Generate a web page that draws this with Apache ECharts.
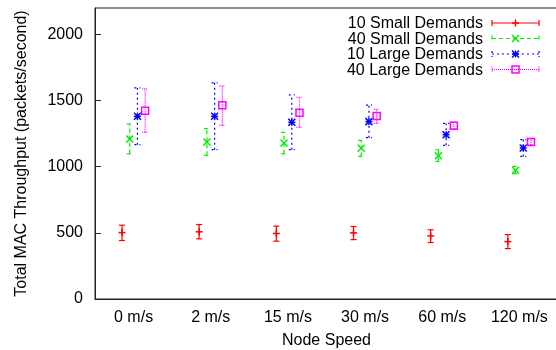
<!DOCTYPE html>
<html>
<head>
<meta charset="utf-8">
<script src="https://cdn.jsdelivr.net/npm/echarts@6/dist/echarts.min.js"></script>
<style>html,body{margin:0;padding:0;background:#fff;}#c{width:556px;height:350px;}</style>
</head>
<body>
<div id="c"></div>
<script>
var categories = ['0 m/s', '2 m/s', '15 m/s', '30 m/s', '60 m/s', '120 m/s'];
var yTicks = [0, 500, 1000, 1500, 2000];

var small10 = [502, 508, 495, 500, 477, 434];
var small10Low = [442, 455, 437, 449, 427, 381];
var small10High = [558, 563, 551, 548, 523, 487];

var small40 = [1210, 1187, 1180, 1139, 1083, 974];
var small40Low = [1098, 1086, 1098, 1078, 1040, 947];
var small40High = [1323, 1288, 1260, 1199, 1128, 1002];

var large10 = [1381, 1381, 1336, 1341, 1242, 1142];
var large10Low = [1167, 1129, 1129, 1220, 1162, 1078];
var large10High = [1596, 1634, 1543, 1465, 1327, 1205];

var large40 = [1424, 1464, 1409, 1384, 1310, 1187];
var large40Low = [1260, 1313, 1298, 1328, 1284, 1164];
var large40High = [1589, 1611, 1525, 1434, 1337, 1212];

var seriesNames = ['10 Small Demands', '40 Small Demands', '10 Large Demands', '40 Large Demands'];

function build(v, lo, hi) {
  return categories.map(function (c, i) { return [i, v[i], lo[i], hi[i]]; });
}

var styles = [
  { color: '#ff0000', dash: null, marker: 'plus', offset: -0.15 },
  { color: '#00ee00', dash: [4, 3], marker: 'cross', offset: -0.05 },
  { color: '#0000ff', dash: [2, 3], marker: 'star', offset: 0.05 },
  { color: '#ff00ff', dash: [1, 1], marker: 'square', offset: 0.15 }
];

function markerShapes(type, cx, cy, color) {
  var r = 3.5, out = [];
  var st = { stroke: color, lineWidth: 1.5, fill: null };
  function ln(x1, y1, x2, y2) { out.push({ type: 'line', shape: { x1: x1, y1: y1, x2: x2, y2: y2 }, style: st }); }
  if (type === 'plus' || type === 'star') { ln(cx - r, cy, cx + r, cy); ln(cx, cy - r, cx, cy + r); }
  if (type === 'cross' || type === 'star') { ln(cx - r, cy - r, cx + r, cy + r); ln(cx - r, cy + r, cx + r, cy - r); }
  if (type === 'square') { out.push({ type: 'rect', shape: { x: cx - r, y: cy - r, width: 2 * r, height: 2 * r }, style: { stroke: color, lineWidth: 1.5, fill: null } }); }
  return out;
}

function makeRender(s) {
  return function (params, api) {
    var i = api.value(0);
    var band = api.size([1, 0])[0];
    var pc = api.coord([i, api.value(1)]);
    var pl = api.coord([i, api.value(2)]);
    var ph = api.coord([i, api.value(3)]);
    var x = pc[0] + s.offset * band;
    var cap = 3;
    var ls = { stroke: s.color, lineWidth: 1.2, lineDash: s.dash };
    var children = [
      { type: 'line', shape: { x1: x, y1: pl[1], x2: x, y2: ph[1] }, style: ls },
      { type: 'line', shape: { x1: x - cap, y1: pl[1], x2: x + cap, y2: pl[1] }, style: ls },
      { type: 'line', shape: { x1: x - cap, y1: ph[1], x2: x + cap, y2: ph[1] }, style: ls }
    ].concat(markerShapes(s.marker, x, pc[1], s.color));
    return { type: 'group', children: children };
  };
}

var datasets = [
  build(small10, small10Low, small10High),
  build(small40, small40Low, small40High),
  build(large10, large10Low, large10High),
  build(large40, large40Low, large40High)
];

var series = datasets.map(function (d, k) {
  return {
    name: seriesNames[k],
    type: 'custom',
    renderItem: makeRender(styles[k]),
    encode: { x: 0, y: [1, 2, 3] },
    data: d,
    clip: true
  };
});

// legend drawn as graphic elements (text right aligned, error-bar sample on the right)
var legendGraphics = [];
var rowY = [23, 38.5, 54, 69.5];
seriesNames.forEach(function (n, k) {
  var s = styles[k], y = rowY[k], x1 = 492, x2 = 539, xm = (x1 + x2) / 2;
  var ls = { stroke: s.color, lineWidth: 1.2, lineDash: s.dash };
  legendGraphics.push({ type: 'text', right: 556 - 483, top: y - 7, style: { text: n, font: '16px "Liberation Sans", Arial, sans-serif', fill: '#000', textAlign: 'right' } });
  legendGraphics.push({ type: 'line', shape: { x1: x1, y1: y, x2: x2, y2: y }, style: ls });
  legendGraphics.push({ type: 'line', shape: { x1: x1, y1: y - 3, x2: x1, y2: y + 3 }, style: ls });
  legendGraphics.push({ type: 'line', shape: { x1: x2, y1: y - 3, x2: x2, y2: y + 3 }, style: ls });
  markerShapes(s.marker, xm, y, s.color).forEach(function (m) { legendGraphics.push(m); });
});

var chart = echarts.init(document.getElementById('c'), null, { renderer: 'canvas' });
chart.setOption({
  animation: false,
  backgroundColor: '#ffffff',
  textStyle: { fontFamily: '"Liberation Sans", Arial, sans-serif' },
  grid: { left: 95, top: 8, width: 463, height: 291, show: true, borderColor: '#222', borderWidth: 1, containLabel: false, outerBoundsMode: 'none' },
  xAxis: {
    type: 'category',
    data: categories,
    boundaryGap: true,
    name: 'Node Speed',
    nameLocation: 'middle',
    nameGap: 34,
    nameTextStyle: { fontSize: 16, color: '#000' },
    axisLine: { lineStyle: { color: '#222' } },
    axisTick: { inside: true, length: 6, alignWithLabel: true, lineStyle: { color: '#222' } },
    axisLabel: { fontSize: 16, color: '#000', margin: 11 },
    splitLine: { show: false }
  },
  yAxis: {
    type: 'value',
    min: 0,
    max: 2200,
    name: 'Total MAC Throughput (packets/second)',
    nameLocation: 'middle',
    nameRotate: 90,
    nameGap: 65,
    nameTextStyle: { fontSize: 16, color: '#000' },
    axisLine: { show: true, lineStyle: { color: '#222' } },
    axisTick: { show: true, inside: true, length: 6, customValues: yTicks, lineStyle: { color: '#222' } },
    axisLabel: { fontSize: 16, color: '#000', margin: 12, customValues: yTicks, formatter: function (v) { return String(v); } },
    splitLine: { show: false }
  },
  graphic: legendGraphics,
  series: series
});
</script>
</body>
</html>
